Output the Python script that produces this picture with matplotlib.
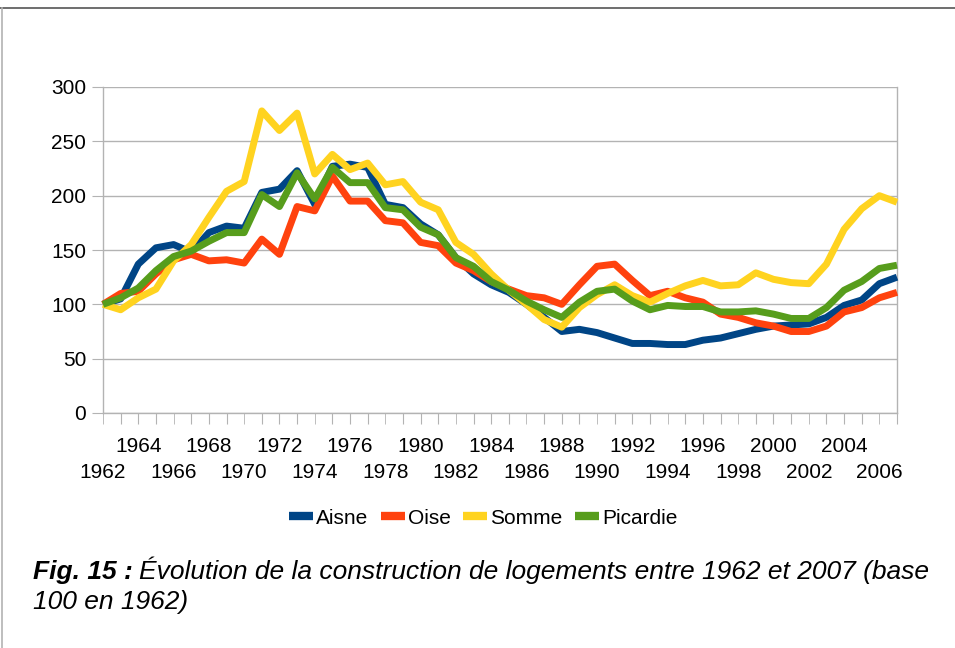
import matplotlib
matplotlib.use("Agg")
import matplotlib.pyplot as plt
from matplotlib.lines import Line2D

plt.rcParams['font.family'] = ['Liberation Sans', 'DejaVu Sans']

years = list(range(1962, 2008))
aisne = [100, 105, 137, 152, 155, 148, 166, 172, 170, 203, 206, 223, 192, 227, 229, 226,
         192, 189, 174, 164, 143, 128, 118, 111, 100, 88, 75, 77, 74, 69, 64, 64,
         63, 63, 67, 69, 73, 77, 80, 81, 82, 88, 99, 104, 119, 125]
oise = [100, 110, 112, 128, 141, 146, 140, 141, 138, 160, 146, 190, 186, 218, 195, 195,
        177, 175, 157, 154, 138, 131, 121, 114, 108, 106, 100, 118, 135, 137, 122, 108,
        112, 106, 102, 91, 88, 83, 80, 75, 75, 80, 93, 97, 106, 111]
somme = [100, 95, 106, 114, 140, 155, 180, 204, 213, 278, 260, 276, 220, 238, 224, 230,
         210, 213, 194, 187, 157, 146, 128, 113, 100, 86, 79, 97, 109, 118, 108, 102,
         110, 117, 122, 117, 118, 129, 123, 120, 119, 137, 169, 188, 200, 194]
picardie = [100, 106, 115, 131, 144, 149, 158, 166, 166, 201, 190, 221, 197, 226, 212, 212,
            189, 187, 171, 164, 143, 135, 121, 113, 103, 95, 88, 102, 112, 114, 103, 95,
            99, 98, 98, 93, 93, 94, 91, 87, 87, 97, 113, 121, 133, 136]

series = [("Aisne", aisne, "#004586"), ("Oise", oise, "#ff420e"),
          ("Somme", somme, "#ffd320"), ("Picardie", picardie, "#579d1c")]

fig = plt.figure(figsize=(9.55, 6.48), dpi=100)
W, H = 955, 648
ax = fig.add_axes([103 / W, 1 - 413 / H, (897 - 103) / W, (413 - 87) / H])

grid_c = "#b3b3b3"
for name, vals, col in series:
    ax.plot(years, vals, color=col, lw=5, label=name, solid_joinstyle='round',
            solid_capstyle='butt', clip_on=False, zorder=3)

ax.set_xlim(1962, 2007)
ax.set_ylim(0, 300)
ax.set_yticks(range(0, 301, 50))
ax.yaxis.grid(True, color=grid_c, lw=1)
ax.set_axisbelow(True)
ax.spines['top'].set_visible(False)
for s in ['left', 'right', 'bottom']:
    ax.spines[s].set_color(grid_c)
    ax.spines[s].set_linewidth(1)

# lower-row labels (1962, 1966, ...) as minor ticks; everything else major
lower = [y for y in years if (y - 1962) % 4 == 0]
upper_all = [y for y in years if (y - 1962) % 4 != 0]
ax.set_xticks(upper_all)
ax.set_xticklabels([str(y) if (y - 1962) % 2 == 0 else "" for y in upper_all], fontsize=15)
ax.set_xticks(lower, minor=True)
ax.set_xticklabels([str(y) for y in lower], minor=True, fontsize=15)
ax.tick_params(axis='x', which='major', length=8, color=grid_c, pad=9)
ax.tick_params(axis='x', which='minor', length=8, color=grid_c, pad=28)
ax.tick_params(axis='y', length=8, color=grid_c, labelsize=15, pad=4)

handles = [Line2D([0], [0], color=c, lw=6, solid_capstyle='butt') for _, _, c in series]
fig.legend(handles, [n for n, _, _ in series], loc='center', bbox_to_anchor=(483 / W, 1 - 518 / H),
           ncol=4, frameon=False, fontsize=15, handlelength=1.15, handletextpad=0.15,
           columnspacing=0.6)

t1 = fig.text(33 / W, 1 - 579 / H, "Fig. 15 :", fontsize=19, fontweight='bold', style='italic',
              va='baseline', ha='left')
fig.canvas.draw()
bb = t1.get_window_extent(renderer=fig.canvas.get_renderer())
fig.text((bb.x1 + 6) / W, 1 - 579 / H,
         "Évolution de la construction de logements entre 1962 et 2007 (base",
         fontsize=19, style='italic', va='baseline', ha='left')
fig.text(33 / W, 1 - 609 / H, "100 en 1962)", fontsize=19, style='italic', va='baseline', ha='left')

fig.add_artist(Line2D([0, 1], [1 - 8 / H, 1 - 8 / H], transform=fig.transFigure, color="#555555", lw=1.2))
fig.add_artist(Line2D([1.5 / W, 1.5 / W], [0, 1 - 8 / H], transform=fig.transFigure, color=grid_c, lw=1.2))

fig.savefig("out.png", dpi=100)
